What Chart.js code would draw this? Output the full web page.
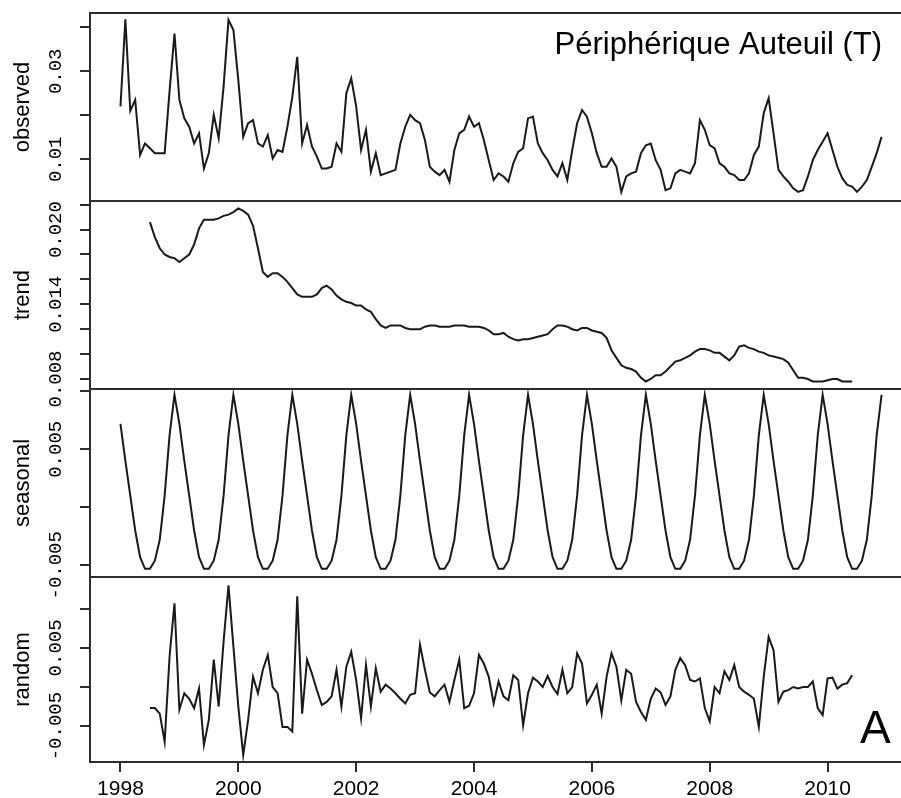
<!DOCTYPE html>
<html>
<head>
<meta charset="utf-8">
<script src="https://cdn.jsdelivr.net/npm/chart.js"></script>
<style>
  html, body { margin: 0; padding: 0; background: #fff; }
  #wrap { position: relative; width: 901px; height: 798px; overflow: hidden; }
  #wrap canvas { position: absolute; left: 0; top: 0; }
</style>
</head>
<body>
<div id="wrap">
  <canvas id="obs" width="940" height="798"></canvas>
  <canvas id="tre" width="940" height="798"></canvas>
  <canvas id="sea" width="940" height="798"></canvas>
  <canvas id="ran" width="940" height="798"></canvas>
</div>
<script>
// monthly series, Jan 1998 .. Dec 2010
const startYear = 1998;
const observed = [
  0.0220, 0.0418, 0.0210, 0.0235, 0.0110, 0.0136, 0.0125, 0.0114, 0.0114, 0.0114, 0.0255, 0.0386,
  0.0235, 0.0193, 0.0174, 0.0136, 0.0159, 0.0079, 0.0114, 0.0201, 0.0148, 0.0265, 0.0417, 0.0394,
  0.0280, 0.0151, 0.0182, 0.0189, 0.0136, 0.0129, 0.0155, 0.0102, 0.0121, 0.0117, 0.0174, 0.0242,
  0.0333, 0.0136, 0.0178, 0.0129, 0.0106, 0.0079, 0.0079, 0.0083, 0.0136, 0.0117, 0.0250, 0.0284,
  0.0220, 0.0121, 0.0167, 0.0072, 0.0114, 0.0064, 0.0068, 0.0072, 0.0076, 0.0136, 0.0174, 0.0201,
  0.0189, 0.0182, 0.0144, 0.0083, 0.0072, 0.0064, 0.0076, 0.0049, 0.0121, 0.0159, 0.0167, 0.0197,
  0.0174, 0.0182, 0.0144, 0.0098, 0.0053, 0.0068, 0.0061, 0.0049, 0.0091, 0.0117, 0.0125, 0.0193,
  0.0197, 0.0136, 0.0114, 0.0098, 0.0076, 0.0061, 0.0091, 0.0053, 0.0121, 0.0182, 0.0212, 0.0197,
  0.0159, 0.0114, 0.0083, 0.0083, 0.0102, 0.0083, 0.0026, 0.0061, 0.0068, 0.0072, 0.0114, 0.0132,
  0.0136, 0.0098, 0.0076, 0.0030, 0.0034, 0.0068, 0.0076, 0.0072, 0.0068, 0.0091, 0.0189, 0.0167,
  0.0132, 0.0125, 0.0091, 0.0083, 0.0068, 0.0064, 0.0053, 0.0053, 0.0068, 0.0110, 0.0129, 0.0205,
  0.0239, 0.0159, 0.0076, 0.0061, 0.0049, 0.0034, 0.0026, 0.0030, 0.0061, 0.0098, 0.0121, 0.0140,
  0.0159, 0.0121, 0.0083, 0.0057, 0.0042, 0.0038, 0.0026, 0.0038, 0.0053, 0.0083, 0.0114, 0.0151
];
const seasonal = [
  0.0072, 0.0040, 0.0010, -0.0020, -0.0043, -0.0053, -0.0053, -0.0046, -0.0028, 0.0010, 0.0062, 0.0097,
  0.0072, 0.0040, 0.0010, -0.0020, -0.0043, -0.0053, -0.0053, -0.0046, -0.0028, 0.0010, 0.0062, 0.0097,
  0.0072, 0.0040, 0.0010, -0.0020, -0.0043, -0.0053, -0.0053, -0.0046, -0.0028, 0.0010, 0.0062, 0.0097,
  0.0072, 0.0040, 0.0010, -0.0020, -0.0043, -0.0053, -0.0053, -0.0046, -0.0028, 0.0010, 0.0062, 0.0097,
  0.0072, 0.0040, 0.0010, -0.0020, -0.0043, -0.0053, -0.0053, -0.0046, -0.0028, 0.0010, 0.0062, 0.0097,
  0.0072, 0.0040, 0.0010, -0.0020, -0.0043, -0.0053, -0.0053, -0.0046, -0.0028, 0.0010, 0.0062, 0.0097,
  0.0072, 0.0040, 0.0010, -0.0020, -0.0043, -0.0053, -0.0053, -0.0046, -0.0028, 0.0010, 0.0062, 0.0097,
  0.0072, 0.0040, 0.0010, -0.0020, -0.0043, -0.0053, -0.0053, -0.0046, -0.0028, 0.0010, 0.0062, 0.0097,
  0.0072, 0.0040, 0.0010, -0.0020, -0.0043, -0.0053, -0.0053, -0.0046, -0.0028, 0.0010, 0.0062, 0.0097,
  0.0072, 0.0040, 0.0010, -0.0020, -0.0043, -0.0053, -0.0053, -0.0046, -0.0028, 0.0010, 0.0062, 0.0097,
  0.0072, 0.0040, 0.0010, -0.0020, -0.0043, -0.0053, -0.0053, -0.0046, -0.0028, 0.0010, 0.0062, 0.0097,
  0.0072, 0.0040, 0.0010, -0.0020, -0.0043, -0.0053, -0.0053, -0.0046, -0.0028, 0.0010, 0.0062, 0.0097,
  0.0072, 0.0040, 0.0010, -0.0020, -0.0043, -0.0053, -0.0053, -0.0046, -0.0028, 0.0010, 0.0062, 0.0097
];

// trend and random: Jul 1998 .. Jun 2010
const trendStart = 1998.5;
const trend = [
  0.0206, 0.0194, 0.0185, 0.0180, 0.0178, 0.0177, 0.0174, 0.0177, 0.0180, 0.0188, 0.0201, 0.0208,
  0.0208, 0.0208, 0.0209, 0.0211, 0.0212, 0.0214, 0.0217, 0.0215, 0.0212, 0.0203, 0.0185, 0.0166,
  0.0162, 0.0165, 0.0165, 0.0162, 0.0158, 0.0153, 0.0148, 0.0146, 0.0146, 0.0146, 0.0148, 0.0153,
  0.0155, 0.0152, 0.0147, 0.0144, 0.0142, 0.0141, 0.0139, 0.0139, 0.0136, 0.0134, 0.0128, 0.0123,
  0.0121, 0.0123, 0.0123, 0.0123, 0.0121, 0.0120, 0.0120, 0.0120, 0.0122, 0.0123, 0.0123, 0.0122,
  0.0122, 0.0122, 0.0123, 0.0123, 0.0123, 0.0122, 0.0122, 0.0122, 0.0121, 0.0119, 0.0116, 0.0116,
  0.0117, 0.0114, 0.0112, 0.0111, 0.0112, 0.0112, 0.0113, 0.0114, 0.0115, 0.0116, 0.0120, 0.0123,
  0.0123, 0.0122, 0.0120, 0.0119, 0.0121, 0.0121, 0.0119, 0.0118, 0.0117, 0.0113, 0.0103, 0.0097,
  0.0091, 0.0089, 0.0088, 0.0086, 0.0081, 0.0078, 0.0080, 0.0083, 0.0083, 0.0086, 0.0090, 0.0094,
  0.0095, 0.0097, 0.0099, 0.0102, 0.0104, 0.0104, 0.0103, 0.0101, 0.0101, 0.0098, 0.0095, 0.0099,
  0.0106, 0.0107, 0.0105, 0.0104, 0.0102, 0.0101, 0.0099, 0.0098, 0.0097, 0.0096, 0.0093, 0.0087,
  0.0081, 0.0081, 0.0080, 0.0078, 0.0078, 0.0078, 0.0079, 0.0080, 0.0080, 0.0078, 0.0078, 0.0078
];
const random = [
  -0.0027, -0.0027, -0.0034, -0.0070, 0.0039, 0.0107, -0.0029, -0.0008, -0.0015, -0.0027, -0.0002, -0.0074,
  -0.0042, 0.0035, -0.0025, 0.0058, 0.0130, 0.0052, -0.0025, -0.0087, -0.0042, 0.0013, -0.0008, 0.0022,
  0.0041, 0.0000, -0.0008, -0.0051, -0.0051, -0.0057, 0.0116, -0.0034, 0.0035, 0.0017, -0.0004, -0.0023,
  -0.0019, -0.0012, 0.0022, -0.0025, 0.0026, 0.0045, 0.0009, -0.0040, 0.0028, -0.0025, 0.0024, -0.0006,
  0.0003, -0.0002, -0.0008, -0.0015, -0.0021, -0.0010, -0.0008, 0.0054, 0.0022, -0.0007, -0.0012, -0.0004,
  0.0003, -0.0019, 0.0009, 0.0035, -0.0027, -0.0024, -0.0008, 0.0041, 0.0030, 0.0013, -0.0021, 0.0007,
  -0.0012, -0.0017, 0.0015, 0.0009, -0.0049, -0.0008, 0.0012, 0.0007, 0.0000, 0.0014, 0.0000, -0.0009,
  0.0022, -0.0008, 0.0000, 0.0043, 0.0030, -0.0021, -0.0010, 0.0003, -0.0034, 0.0013, 0.0043, 0.0026,
  -0.0017, 0.0022, 0.0017, -0.0019, -0.0032, -0.0042, -0.0015, -0.0002, -0.0007, -0.0023, -0.0012, 0.0022,
  0.0037, 0.0028, 0.0009, 0.0007, 0.0011, -0.0027, -0.0044, 0.0000, -0.0008, 0.0020, 0.0009, 0.0028,
  0.0000, -0.0006, -0.0010, -0.0015, -0.0051, 0.0013, 0.0064, 0.0047, -0.0019, -0.0006, -0.0004, 0.0000,
  -0.0002, 0.0000, 0.0000, 0.0007, -0.0027, -0.0036, 0.0011, 0.0012, -0.0002, 0.0003, 0.0005, 0.0015
];

// axes
const xTicks = [1998, 2000, 2002, 2004, 2006, 2008, 2010];
const observedTicks = [0.01, 0.02, 0.03, 0.04];
const observedTickText = ['0.01', '', '0.03', ''];
const trendTicks = [0.008, 0.010, 0.012, 0.014, 0.016, 0.018, 0.020, 0.022];
const trendTickText = ['0.008', '', '', '0.014', '', '', '0.020', ''];
const seasonalTicks = [-0.005, 0, 0.005, 0.010];
const seasonalTickText = ['-0.005', '', '0.005', ''];
const randomTicks = [-0.005, 0, 0.005, 0.010];
const randomTickText = ['-0.005', '', '0.005', ''];

const title = 'Périphérique Auteuil (T)';
const panelTag = 'A';

const ink = '#1a1a1a';
const frameColor = '#2e2e2e';
const tickFont = { family: 'Liberation Mono', size: 19 };
const nameFont = { family: 'Liberation Sans', size: 22 };
const CW = 940, CH = 798, LEFT = 90, RIGHT = 912, XAXIS_H = 36;

// box around each panel
const frame = {
  id: 'frame',
  afterDraw(chart) {
    const { ctx, chartArea: a } = chart;
    ctx.save();
    ctx.strokeStyle = frameColor;
    ctx.lineWidth = 2;
    ctx.strokeRect(a.left, a.top, a.right - a.left, a.bottom - a.top);
    ctx.restore();
  }
};

function labelText(chart, text, size, x, y, align) {
  const ctx = chart.ctx;
  ctx.save();
  ctx.font = size + 'px "Liberation Sans", Arial, sans-serif';
  ctx.fillStyle = '#000';
  ctx.textAlign = align;
  ctx.textBaseline = 'alphabetic';
  ctx.fillText(text, x, y);
  ctx.restore();
}

// keep rotated tick labels centred on x = 56 whatever their width
const measure = document.createElement('canvas').getContext('2d');
function tickPad(texts) {
  measure.font = tickFont.size + 'px "' + tickFont.family + '"';
  const w = Math.max(...texts.map(t => measure.measureText(t).width));
  return LEFT - 10 - 56 - w / 2;
}

function panel(id, name, values, x0, yMin, yMax, yTicks, yText, top, bottom, showX, extra) {
  const points = values.map((v, i) => ({ x: x0 + i / 12, y: v }));
  return new Chart(document.getElementById(id), {
    type: 'line',
    data: {
      datasets: [{
        data: points,
        borderColor: ink,
        borderWidth: 2,
        pointRadius: 0,
        tension: 0,
        fill: false
      }]
    },
    options: {
      responsive: false,
      animation: false,
      events: [],
      layout: {
        padding: { left: 0, right: CW - RIGHT, top: top, bottom: CH - bottom - (showX ? XAXIS_H : 0) }
      },
      plugins: { legend: { display: false }, tooltip: { enabled: false } },
      scales: {
        x: {
          type: 'linear',
          min: 1997.483,
          max: 2011.433,
          display: showX,
          afterBuildTicks: s => { s.ticks = xTicks.map(v => ({ value: v })); },
          afterFit: s => { s.height = showX ? XAXIS_H : 0; },
          border: { display: false },
          grid: { drawOnChartArea: false, tickLength: 10, color: frameColor, lineWidth: 2 },
          ticks: {
            color: '#000',
            font: { family: 'Liberation Sans', size: 21 },
            padding: 5,
            maxRotation: 0,
            autoSkip: false,
            callback: v => String(v)
          }
        },
        y: {
          type: 'linear',
          min: yMin,
          max: yMax,
          afterBuildTicks: s => { s.ticks = yTicks.map(v => ({ value: v })); },
          afterFit: s => { s.width = LEFT; },
          border: { display: false },
          grid: { drawOnChartArea: false, tickLength: 10, color: frameColor, lineWidth: 2 },
          ticks: {
            color: '#000',
            font: tickFont,
            minRotation: 90,
            maxRotation: 90,
            crossAlign: 'center',
            padding: tickPad(yText),
            autoSkip: false,
            callback: (v, i) => yText[i]
          },
          title: {
            display: true,
            text: name,
            color: '#000',
            font: nameFont,
            padding: { top: 10, bottom: 0 }
          }
        }
      }
    },
    plugins: extra ? [frame, extra] : [frame]
  });
}

panel('obs', 'observed', observed, startYear, 0.000523, 0.04325,
  observedTicks, observedTickText, 13, 201, false,
  { id: 'title', afterDraw: c => labelText(c, title, 31, 882, 54, 'right') });
panel('tre', 'trend', trend, trendStart, 0.007197, 0.022297,
  trendTicks, trendTickText, 201, 389, false);
panel('sea', 'seasonal', seasonal, startYear, -0.006009, 0.010198,
  seasonalTicks, seasonalTickText, 389, 577, false);
panel('ran', 'random', random, trendStart, -0.009591, 0.014066,
  randomTicks, randomTickText, 577, 762, true,
  { id: 'tag', afterDraw: c => labelText(c, panelTag, 46, 860, 743, 'left') });
</script>
</body>
</html>
